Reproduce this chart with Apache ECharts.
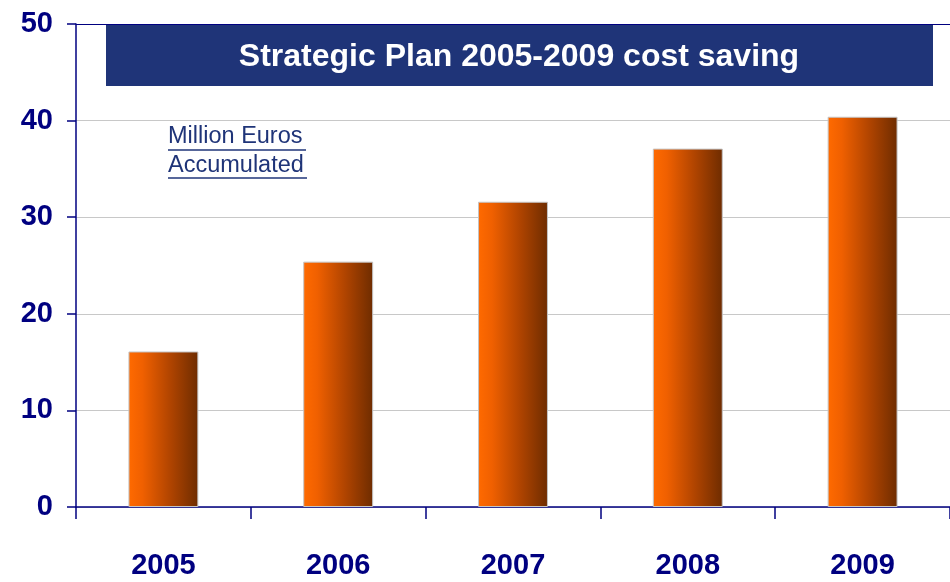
<!DOCTYPE html>
<html><head><meta charset="utf-8">
<script src="https://cdn.jsdelivr.net/npm/echarts@6/dist/echarts.min.js"></script>
<style>html,body{margin:0;padding:0;background:#fff}#c{width:950px;height:582px}</style>
</head><body><div id="c"></div>
<script>
const years = ['2005','2006','2007','2008','2009'];
const savings = [16.1, 25.4, 31.6, 37.1, 40.4];
const yTicks = [0, 10, 20, 30, 40, 50];
const titleText = 'Strategic Plan 2005-2009 cost saving';
const noteLines = ['Million Euros', 'Accumulated'];

const navy = '#000080';
const chart = echarts.init(document.getElementById('c'));
const barGrad = new echarts.graphic.LinearGradient(0, 0, 1, 0, [
  {offset: 0, color: '#FF6A00'},
  {offset: 0.2, color: '#F06000'},
  {offset: 0.6, color: '#B04400'},
  {offset: 1, color: '#6E2C00'}
]);
const labelFont = '"Liberation Sans", Arial, sans-serif';
chart.setOption({
  animation: false,
  grid: {left: 76, top: 24, width: 880, bottom: 75},
  xAxis: {
    type: 'category', data: years,
    axisLine: {lineStyle: {color: navy, width: 1.5}},
    axisTick: {show: true, length: 12, lineStyle: {color: navy, width: 1.5}},
    axisLabel: {margin: 44, color: navy, fontFamily: labelFont, fontWeight: 'bold', fontSize: 29}
  },
  yAxis: {
    type: 'value', min: 0, max: 50, interval: 10,
    axisLine: {show: true, lineStyle: {color: navy, width: 1.5}},
    axisTick: {show: true, length: 9, lineStyle: {color: navy, width: 1.5}},
    axisLabel: {margin: 23, color: navy, fontFamily: labelFont, fontWeight: 'bold', fontSize: 29,
      formatter: v => yTicks.includes(v) ? String(v) : ''},
    splitLine: {lineStyle: {color: ['#c8c8c8','#c8c8c8','#c8c8c8','#c8c8c8','#c8c8c8', navy], width: 1.2}}
  },
  series: [{
    type: 'bar', data: savings, barWidth: '40%',
    itemStyle: {color: barGrad, borderColor: '#c4c4c4', borderWidth: 1}
  }],
  graphic: [
    {type: 'rect', shape: {x: 106, y: 25, width: 827, height: 61}, style: {fill: '#1F3478'}, z: 10},
    {type: 'text', x: 519, y: 57, z: 11, style: {text: titleText, fill: '#fff', font: 'bold 32px "Liberation Sans", Arial, sans-serif', textAlign: 'center', textVerticalAlign: 'middle'}},
    {type: 'text', x: 168, y: 137, z: 11, style: {text: noteLines[0], fill: '#1F3478', font: '23.5px "Liberation Sans", Arial, sans-serif', textAlign: 'left', textVerticalAlign: 'middle'}},
    {type: 'text', x: 168, y: 166, z: 11, style: {text: noteLines[1], fill: '#1F3478', font: '23.5px "Liberation Sans", Arial, sans-serif', textAlign: 'left', textVerticalAlign: 'middle'}},
    {type: 'line', shape: {x1: 168, y1: 150, x2: 306, y2: 150}, style: {stroke: '#1F3478', lineWidth: 1.5}, z: 11},
    {type: 'line', shape: {x1: 168, y1: 178, x2: 307, y2: 178}, style: {stroke: '#1F3478', lineWidth: 1.5}, z: 11}
  ]
});
</script></body></html>
